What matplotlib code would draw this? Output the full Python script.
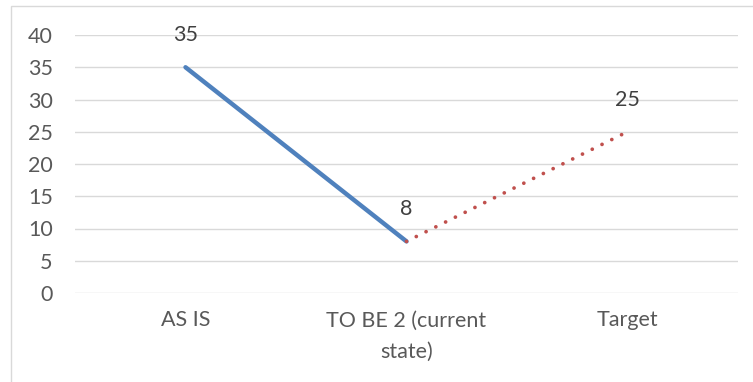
import matplotlib

matplotlib.use("Agg")
import matplotlib.pyplot as plt
from matplotlib.patches import Rectangle

plt.rcParams["font.family"] = ["Lato", "DejaVu Sans"]

categories = ["AS IS", "TO BE 2 (current\nstate)", "Target"]
as_is_values = [35, 8]          # solid segment: AS IS -> TO BE 2
target_values = [8, 25]         # dotted segment: TO BE 2 -> Target
point_labels = [35, 8, 25]
y_ticks = [0, 5, 10, 15, 20, 25, 30, 35, 40]

W, H = 753, 382
fig = plt.figure(figsize=(W / 100, H / 100), dpi=100)
ax = fig.add_axes([75 / W, 1 - 293 / H, (738 - 75) / W, (293 - 35) / H])

# light chart-area border
fig.patches.append(Rectangle((11 / W, -0.1), 1.1, 1.1 - 6 / H, transform=fig.transFigure,
                             fill=False, edgecolor="#D9D9D9", linewidth=1.0, clip_on=False))

x = list(range(len(categories)))
ax.plot(x[:2], as_is_values, color="#4F81BD", linewidth=3.2, solid_capstyle="round", zorder=3)
ax.plot(x[1:], target_values, color="#C0504D", linewidth=2.7, linestyle=(0, (0.01, 2.9)),
        dash_capstyle="round", zorder=3)

all_y = [as_is_values[0], as_is_values[1], target_values[1]]
for xi, yi, lab in zip(x, all_y, point_labels):
    ax.annotate(str(lab), (xi, yi), xytext=(0, 23), textcoords="offset points",
                ha="center", va="center", fontsize=15.5, color="#404040")

ax.set_xlim(-0.5, len(categories) - 0.5)
ax.set_ylim(0, 40)
ax.set_yticks(y_ticks)
ax.set_xticks(x)
ax.set_xticklabels(categories, linespacing=1.7)
ax.tick_params(axis="both", length=0, labelsize=15.5, labelcolor="#595959")
ax.tick_params(axis="y", pad=16)
ax.tick_params(axis="x", pad=12.5)
for lab in ax.get_xticklabels():
    lab.set_verticalalignment("top")

ax.grid(axis="y", color="#D9D9D9", linewidth=1.0)
ax.set_axisbelow(True)
for s in ax.spines.values():
    s.set_visible(False)

fig.savefig("out.png", dpi=100)
